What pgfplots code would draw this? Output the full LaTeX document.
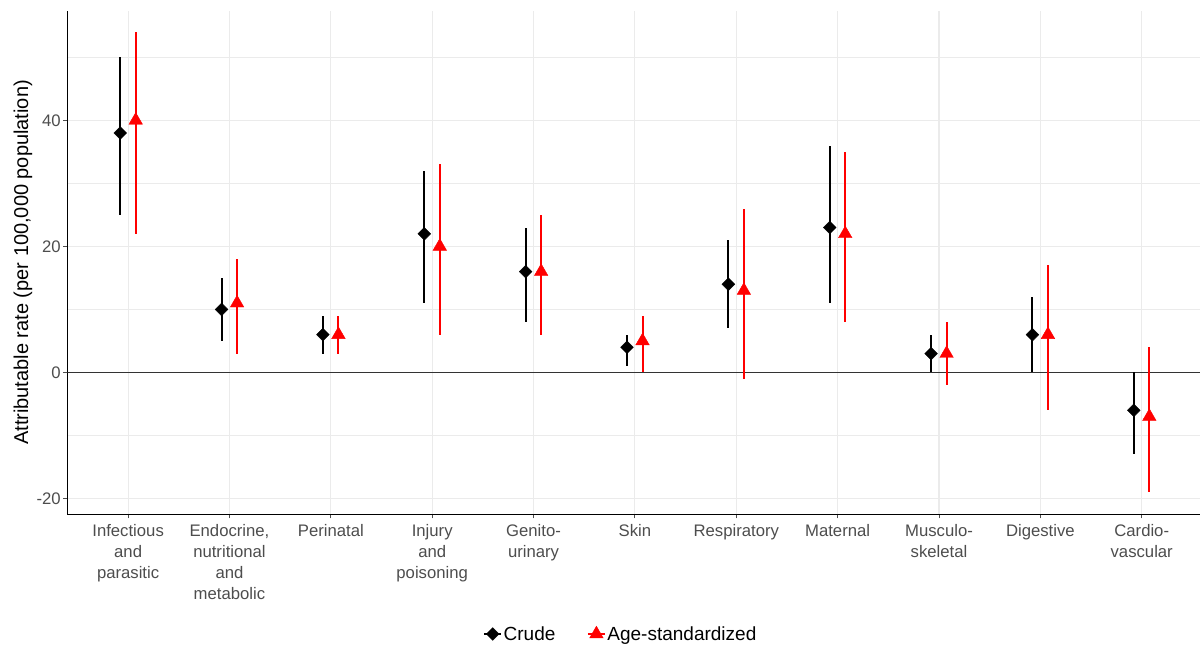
\documentclass[border=0pt]{standalone}
\usepackage{fontspec}
\setmainfont{Liberation Sans}
\usepackage{pgfplots}
\usepackage{pgfplotstable}
\pgfplotsset{compat=1.18}
\definecolor{gridc}{HTML}{EBEBEB}
\definecolor{tickc}{HTML}{4D4D4D}
\definecolor{axc}{HTML}{333333}
\definecolor{agered}{HTML}{FF0000}

\pgfplotsset{
  crudekey/.style={legend image code/.code={%
    \draw[black, line width=2pt] (0pt,0pt) -- (17pt,0pt);
    \draw[black, only marks, mark=square*, mark size=4.5pt, mark options={rotate=45, solid, fill=black}] plot coordinates {(8.5pt,0pt)};}},
  agekey/.style={legend image code/.code={%
    \draw[agered, line width=2pt] (0pt,0pt) -- (17pt,0pt);
    \draw[agered, only marks, mark=triangle*, mark size=7.8pt, mark options={solid, fill=agered}] plot coordinates {(8.5pt,0pt)};}},
}

% x: category index; c/clo/chi: crude estimate and interval; a/alo/ahi: age-standardized
\pgfplotstableread{
x  c   clo  chi  a   alo  ahi
0  38  25   50   40  22   54
1  10  5    15   11  3    18
2  6   3    9    6   3    9
3  22  11   32   20  6    33
4  16  8    23   16  6    25
5  4   1    6    5   0    9
6  14  7    21   13  -1   26
7  23  11   36   22  8    35
8  3   0    6    3   -2   8
9  6   0    12   6   -6   17
10 -6  -13  0    -7  -19  4
}\data

\begin{document}
\begin{tikzpicture}[x=1pt,y=1pt]
\path[use as bounding box] (0,0) rectangle (1201,650);
\begin{axis}[
  at={(67.3pt,135.7pt)}, anchor=south west,
  scale only axis, width=1132.7pt, height=503.6pt,
  xmin=-0.6, xmax=10.575, ymin=-22.5, ymax=57.4,
  axis x line*=bottom, axis y line*=left,
  axis line style={black, line width=0.9pt, -},
  xtick={0,...,10},
  xticklabels={{Infectious\\and\\parasitic},{Endocrine,\\nutritional\\and\\metabolic},{Perinatal},{Injury\\and\\poisoning},{Genito-\\urinary},{Skin},{Respiratory},{Maternal},{Musculo-\\skeletal},{Digestive},{Cardio-\\vascular}},
  ytick={-20,0,20,40}, yticklabels={-20,0,20,40},
  minor ytick={-10,10,30,50},
  grid=both,
  major grid style={gridc, line width=1.1pt},
  minor grid style={gridc, line width=0.6pt},
  tick align=outside, major tick length=4pt, minor tick length=0pt,
  tick style={tickc, line width=0.9pt},
  xticklabel style={align=center, font=\fontsize{16.7}{21}\selectfont, text=tickc, anchor=north, yshift=-3pt},
  yticklabel style={font=\fontsize{16.7}{20}\selectfont, text=tickc, xshift=1pt},
  ylabel={Attributable rate (per 100,000 population)},
  ylabel style={font=\fontsize{20}{24}\selectfont, at={(axis description cs:0,0.5)}, anchor=center, yshift=44.3pt},
  legend style={at={(0.4884,-0.2377)}, anchor=center, draw=none, fill=none,
    font=\fontsize{19}{21}\selectfont, /tikz/every even column/.append style={column sep=30pt},
    nodes={inner sep=1.5pt}},
  legend columns=2,
]
\addplot[axc, line width=0.9pt, forget plot] coordinates {(-0.6,0) (10.575,0)};

\addplot[black, only marks, mark=square*, mark size=4.5pt, mark options={rotate=45, solid, fill=black}, crudekey,
  error bars/.cd, y dir=both, y explicit, error mark=none, error bar style={line width=2pt, black}]
  table[x expr=\thisrow{x}-0.078, y=c, y error plus expr=\thisrow{chi}-\thisrow{c}, y error minus expr=\thisrow{c}-\thisrow{clo}]{\data};
\addlegendentry{Crude}

\addplot[agered, only marks, mark=triangle*, mark size=7.8pt, mark options={solid, fill=agered}, agekey,
  error bars/.cd, y dir=both, y explicit, error mark=none, error bar style={line width=2pt, agered}]
  table[x expr=\thisrow{x}+0.075, y=a, y error plus expr=\thisrow{ahi}-\thisrow{a}, y error minus expr=\thisrow{a}-\thisrow{alo}]{\data};
\addlegendentry{Age-standardized}
\end{axis}
\end{tikzpicture}
\end{document}
